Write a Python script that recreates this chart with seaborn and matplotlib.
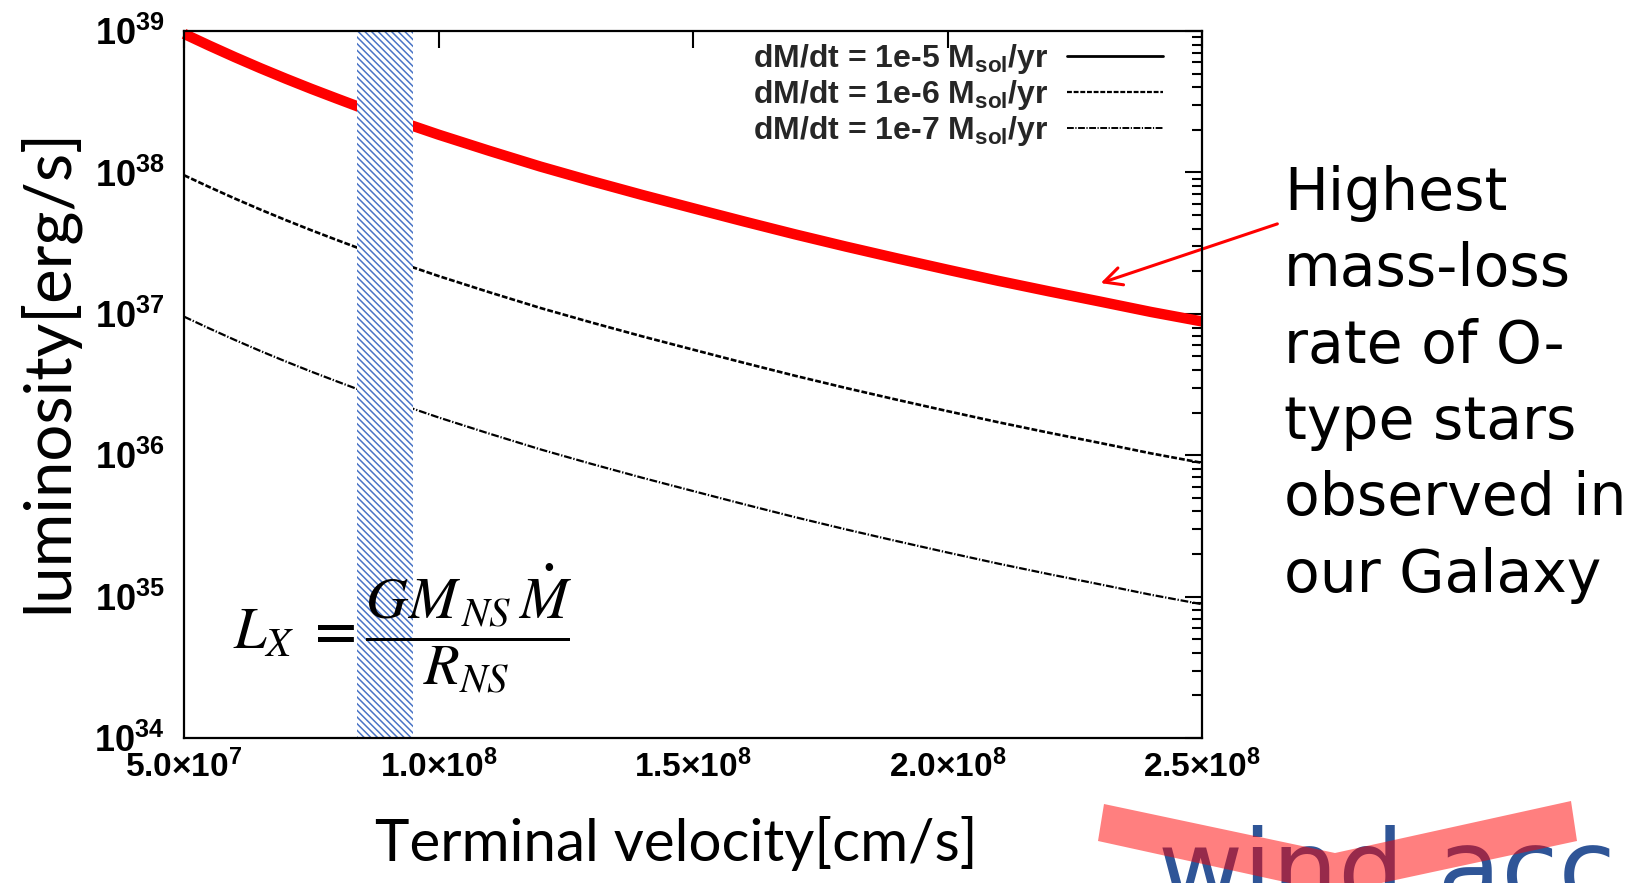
import numpy as np
import pandas as pd
import matplotlib
matplotlib.use("Agg")
import matplotlib.pyplot as plt
import seaborn as sns
from matplotlib.lines import Line2D
from matplotlib.patches import Polygon
from matplotlib.ticker import FixedLocator, FixedFormatter, LogLocator, NullFormatter, NullLocator
from matplotlib.font_manager import FontProperties

# ---------------- data ----------------
velocity = [5.0e7, 5.5e7, 6.0e7, 6.5e7, 7.0e7, 7.5e7, 8.0e7, 8.5e7, 9.0e7, 9.5e7, 1.0e8,
            1.1e8, 1.2e8, 1.3e8, 1.4e8, 1.5e8, 1.6e8, 1.7e8, 1.8e8, 1.9e8, 2.0e8,
            2.1e8, 2.2e8, 2.3e8, 2.4e8, 2.5e8]
lum_mdot_1e5 = [9.55e38, 7.87e38, 6.53e38, 5.46e38, 4.60e38, 3.90e38, 3.33e38, 2.85e38, 2.45e38, 2.13e38, 1.85e38,
                1.42e38, 1.10e38, 8.69e37, 6.93e37, 5.58e37, 4.50e37, 3.65e37, 2.99e37, 2.47e37, 2.05e37,
                1.71e37, 1.44e37, 1.22e37, 1.03e37, 8.83e36]
lum_mdot_1e6 = [9.55e37, 7.87e37, 6.53e37, 5.46e37, 4.60e37, 3.90e37, 3.33e37, 2.85e37, 2.45e37, 2.13e37, 1.85e37,
                1.42e37, 1.10e37, 8.69e36, 6.93e36, 5.58e36, 4.50e36, 3.65e36, 2.99e36, 2.47e36, 2.05e36,
                1.71e36, 1.44e36, 1.22e36, 1.03e36, 8.83e35]
lum_mdot_1e7 = [9.55e36, 7.87e36, 6.53e36, 5.46e36, 4.60e36, 3.90e36, 3.33e36, 2.85e36, 2.45e36, 2.13e36, 1.85e36,
                1.42e36, 1.10e36, 8.69e35, 6.93e35, 5.58e35, 4.50e35, 3.65e35, 2.99e35, 2.47e35, 2.05e35,
                1.71e35, 1.44e35, 1.22e35, 1.03e35, 8.83e34]
series_labels = [r"dM/dt = 1e-5 M$_{sol}$/yr", r"dM/dt = 1e-6 M$_{sol}$/yr", r"dM/dt = 1e-7 M$_{sol}$/yr"]
band_range = [8.4e7, 9.5e7]
xtick_values = [5.0e7, 1.0e8, 1.5e8, 2.0e8, 2.5e8]
xtick_labels = ["5.0×10$^{7}$", "1.0×10$^{8}$", "1.5×10$^{8}$", "2.0×10$^{8}$", "2.5×10$^{8}$"]
ytick_values = [1e34, 1e35, 1e36, 1e37, 1e38, 1e39]
ytick_labels = ["10$^{34}$", "10$^{35}$", "10$^{36}$", "10$^{37}$", "10$^{38}$", "10$^{39}$"]
x_title = "Terminal velocity[cm/s]"
y_title = "luminosity[erg/s]"
annotation_lines = ["Highest", "mass-loss", "rate of O-", "type stars", "observed in", "our Galaxy"]
formula = r"$\mathit{L}_{\mathit{X}}\;=\dfrac{\mathit{GM}_{\,\mathit{NS}}\,\dot{\mathit{M}}}{\mathit{R}_{\mathit{NS}}}$"
footer_text = "wind acc"

# ---------------- style ----------------
sns.set_theme(style="white")
plt.rcParams.update({
    "font.family": ["Liberation Sans", "DejaVu Sans"],
    "mathtext.fontset": "custom",
    "mathtext.rm": "Liberation Sans:bold",
    "mathtext.it": "Liberation Sans:bold",
    "mathtext.bf": "Liberation Sans:bold",
    "mathtext.default": "bf",
    "hatch.linewidth": 1.1,
})

W, H = 1648, 883
fig = plt.figure(figsize=(W / 100, H / 100), dpi=100)
fig.patch.set_facecolor("white")
ax = fig.add_axes([184 / W, 1 - 738 / H, (1202 - 184) / W, (738 - 31) / H])
ax.set_facecolor("white")

n = len(velocity)
df = pd.DataFrame({
    "velocity": velocity * 3,
    "luminosity": lum_mdot_1e5 + lum_mdot_1e6 + lum_mdot_1e7,
    "series": [series_labels[0]] * n + [series_labels[1]] * n + [series_labels[2]] * n,
})

styles = [
    dict(color="#ff0000", lw=7.5, ls="-"),
    dict(color="black", lw=1.9, ls=(0, (2.2, 0.8))),
    dict(color="black", lw=1.6, ls=(0, (3.5, 0.8, 0.6, 0.8))),
]
for lab, st in zip(series_labels, styles):
    sub = df[df["series"] == lab]
    sns.lineplot(data=sub, x="velocity", y="luminosity", ax=ax, legend=False,
                 color=st["color"], linewidth=st["lw"], linestyle=st["ls"],
                 solid_capstyle="butt", zorder=2, clip_on=(lab != series_labels[0]))

ax.set_yscale("log")
ax.set_xlim(velocity[0], velocity[-1])
ax.set_ylim(ytick_values[0], ytick_values[-1])

# hatched band
ax.axvspan(band_range[0], band_range[1], facecolor="white", edgecolor="#4a74c6",
           hatch="\\" * 5, linewidth=0, zorder=3)

# ticks
ax.xaxis.set_major_locator(FixedLocator(xtick_values))
ax.xaxis.set_major_formatter(FixedFormatter(xtick_labels))
ax.xaxis.set_minor_locator(NullLocator())
ax.yaxis.set_major_locator(FixedLocator(ytick_values))
ax.yaxis.set_major_formatter(FixedFormatter(ytick_labels))
ax.yaxis.set_minor_locator(LogLocator(base=10, subs=np.arange(2, 10), numticks=20))
ax.yaxis.set_minor_formatter(NullFormatter())
ax.tick_params(which="both", direction="in", top=True, right=True, colors="black", width=1.5)
ax.tick_params(which="major", length=12)
ax.tick_params(which="minor", length=7)
ax.tick_params(axis="x", which="major", pad=8, labelsize=24)
ax.tick_params(axis="y", which="major", pad=14, labelsize=26)
for lbl in ax.get_xticklabels() + ax.get_yticklabels():
    lbl.set_fontweight("bold")
for sp in ax.spines.values():
    sp.set_linewidth(1.6)
    sp.set_color("black")
    sp.set_zorder(5)

# axis titles
ax.set_xlabel(x_title, fontsize=42, family=["Lato", "DejaVu Sans"], color="black")
ax.xaxis.set_label_coords(0.484, -0.110)
ax.set_ylabel(y_title, fontsize=47, family=["Lato", "DejaVu Sans"], color="black")
ax.yaxis.set_label_coords(-0.104, 0.52)

# legend (black line styles as in the original plot key)
handles = [Line2D([0], [0], color="black", lw=2.0, ls="-"),
           Line2D([0], [0], color="black", lw=1.6, ls=(0, (2.2, 0.8))),
           Line2D([0], [0], color="black", lw=1.4, ls=(0, (3.5, 0.8, 0.6, 0.8)))]
leg = ax.legend(handles, series_labels, loc="upper right", bbox_to_anchor=(0.962, 0.984),
                frameon=False, markerfirst=False, handlelength=3.0, handletextpad=0.6,
                labelspacing=0.06, borderpad=0, borderaxespad=0,
                prop=FontProperties(family="Liberation Sans", weight="bold", size=23))
leg.set_zorder(6)

# formula
fig.text(233 / W, 1 - 628 / H, formula, fontsize=42, ha="left", va="center",
         math_fontfamily="stix", color="black", zorder=7)

# annotation text + arrow
for i, line in enumerate(annotation_lines):
    fig.text(1284 / W, 1 - (210 + i * 76.3) / H, line, fontsize=42,
             family=["DejaVu Sans"], ha="left", va="baseline", color="black")
ax.annotate("", xy=(1098, H - 284), xycoords="figure pixels",
            xytext=(1280, H - 223), textcoords="figure pixels",
            arrowprops=dict(arrowstyle="->", color="#ff0000", lw=2.2, mutation_scale=32),
            annotation_clip=False)

# footer decoration
fig.text(1158 / W, -20 / H, footer_text, fontsize=75, family=["DejaVu Sans"],
         color="#2f5597", ha="left", va="baseline")
chev = [(1104, 804), (1335, 853), (1571, 801), (1577, 841), (1335, 893), (1098, 841)]
fig.add_artist(Polygon([(x / W, 1 - y / H) for x, y in chev], closed=True,
                       transform=fig.transFigure, facecolor="#ff0000", alpha=0.5,
                       edgecolor="none", zorder=10))

fig.savefig("out.png", dpi=100)
